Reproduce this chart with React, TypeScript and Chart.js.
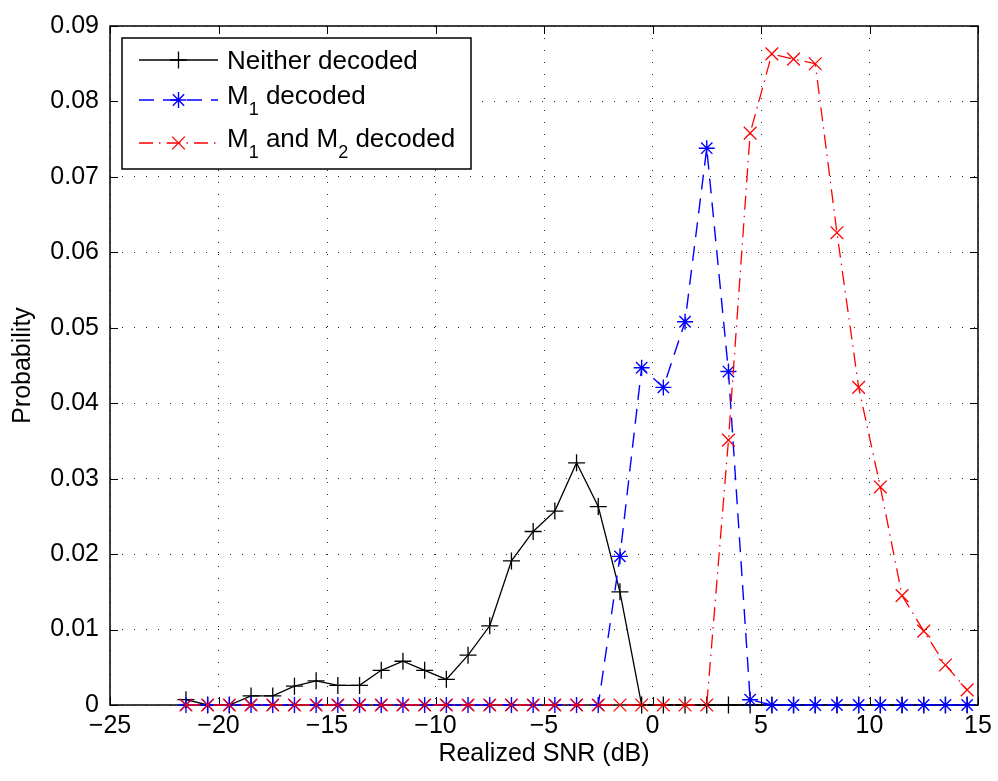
import React, { useEffect, useRef } from 'react';
import { Chart, registerables } from 'chart.js';
import { drawPoint } from 'chart.js/helpers';

Chart.register(...registerables);

// ---- data ----
const snrDb = [
  -21.5, -20.5, -19.5, -18.5, -17.5, -16.5, -15.5, -14.5, -13.5, -12.5,
  -11.5, -10.5, -9.5, -8.5, -7.5, -6.5, -5.5, -4.5, -3.5, -2.5,
  -1.5, -0.5, 0.5, 1.5, 2.5, 3.5, 4.5, 5.5, 6.5, 7.5,
  8.5, 9.5, 10.5, 11.5, 12.5, 13.5, 14.5,
];

const neitherDecoded = [
  0.0007, 0, 0, 0.0012, 0.0012, 0.0025, 0.0032, 0.0026, 0.0026, 0.0046,
  0.0058, 0.0046, 0.0034, 0.0066, 0.0105, 0.0191, 0.0230, 0.0257, 0.0321, 0.0263,
  0.0150, 0, 0, 0, 0, 0, 0, 0, 0, 0,
  0, 0, 0, 0, 0, 0, 0,
];

const m1Decoded = [
  0, 0, 0, 0, 0, 0, 0, 0, 0, 0,
  0, 0, 0, 0, 0, 0, 0, 0, 0, 0,
  0.0197, 0.0447, 0.0421, 0.0508, 0.0738, 0.0442, 0.0007, 0, 0, 0,
  0, 0, 0, 0, 0, 0, 0,
];

const m1m2Decoded = [
  0, 0, 0, 0, 0, 0, 0, 0, 0, 0,
  0, 0, 0, 0, 0, 0, 0, 0, 0, 0,
  0, 0, 0, 0, 0, 0.0351, 0.0758, 0.0863, 0.0856, 0.0850,
  0.0626, 0.0421, 0.0289, 0.0145, 0.0098, 0.0053, 0.0020,
];

const xTickValues = [-25, -20, -15, -10, -5, 0, 5, 10, 15];
const xTickLabels = ['\u221225', '\u221220', '\u221215', '\u221210', '\u22125', '0', '5', '10', '15'];
const yTickValues = [0, 0.01, 0.02, 0.03, 0.04, 0.05, 0.06, 0.07, 0.08, 0.09];
const yTickLabels = ['0', '0.01', '0.02', '0.03', '0.04', '0.05', '0.06', '0.07', '0.08', '0.09'];

const xTitle = 'Realized SNR (dB)';
const yTitle = 'Probability';

// legend text segments (sub = subscript)
const legendLabels = [
  [{ t: 'Neither decoded' }],
  [{ t: 'M' }, { t: '1', sub: true }, { t: ' decoded' }],
  [{ t: 'M' }, { t: '1', sub: true }, { t: ' and M' }, { t: '2', sub: true }, { t: ' decoded' }],
];

const FONT = "'Liberation Sans', Helvetica, Arial, sans-serif";

const toPoints = (ys: number[]) => snrDb.map((x, i) => ({ x, y: ys[i] }));

// axes box with inward ticks on all four sides
const axesBoxPlugin = {
  id: 'axesBox',
  beforeDatasetsDraw(chart: any) {
    const { ctx, chartArea: a, scales } = chart;
    const L = 8;
    ctx.save();
    ctx.setLineDash([]);
    ctx.strokeStyle = '#000';
    ctx.lineWidth = 1;
    ctx.beginPath();
    scales.x.ticks.forEach((t: any) => {
      const px = Math.round(scales.x.getPixelForValue(t.value)) + 0.5;
      ctx.moveTo(px, a.bottom); ctx.lineTo(px, a.bottom - L);
      ctx.moveTo(px, a.top); ctx.lineTo(px, a.top + L);
    });
    scales.y.ticks.forEach((t: any) => {
      const py = Math.round(scales.y.getPixelForValue(t.value)) + 0.5;
      ctx.moveTo(a.left, py); ctx.lineTo(a.left + L, py);
      ctx.moveTo(a.right, py); ctx.lineTo(a.right - L, py);
    });
    ctx.stroke();
    ctx.lineWidth = 1.5;
    ctx.strokeRect(a.left, a.top, a.right - a.left, a.bottom - a.top);
    ctx.restore();
  },
};

// MATLAB-style legend: line sample + marker + text with subscripts
const legendPlugin = {
  id: 'matlabLegend',
  afterDatasetsDraw(chart: any) {
    const { ctx, chartArea: a } = chart;
    const bx = a.left + 12;
    const by = a.top + 12;
    const bw = 349;
    const bh = 131;
    const lineY = [22, 62, 105];
    const textY = [31, 66, 109];
    const fontSize = 26;
    const subSize = 18;
    ctx.save();
    ctx.fillStyle = '#fff';
    ctx.fillRect(bx, by, bw, bh);
    ctx.setLineDash([]);
    ctx.strokeStyle = '#000';
    ctx.lineWidth = 1.5;
    ctx.strokeRect(bx, by, bw, bh);
    chart.data.datasets.forEach((ds: any, i: number) => {
      const y = by + lineY[i];
      const x0 = bx + 17;
      const x1 = bx + 96;
      const xm = (x0 + x1) / 2;
      ctx.save();
      ctx.strokeStyle = ds.borderColor;
      ctx.lineWidth = ds.borderWidth;
      ctx.setLineDash(ds.borderDash || []);
      ctx.beginPath();
      ctx.moveTo(x0, y);
      ctx.lineTo(x1, y);
      ctx.stroke();
      ctx.setLineDash([]);
      ctx.strokeStyle = ds.pointBorderColor;
      ctx.lineWidth = ds.pointBorderWidth;
      drawPoint(ctx, { pointStyle: ds.pointStyle, radius: ds.pointRadius, rotation: 0, borderWidth: ds.pointBorderWidth }, xm, y);
      ctx.restore();
      // text
      let tx = bx + 105;
      const base = by + textY[i];
      ctx.fillStyle = '#000';
      ctx.textBaseline = 'alphabetic';
      ctx.textAlign = 'left';
      legendLabels[i].forEach((seg: any) => {
        ctx.font = `${seg.sub ? subSize : fontSize}px ${FONT}`;
        ctx.fillText(seg.t, tx, seg.sub ? base + 11 : base);
        tx += ctx.measureText(seg.t).width;
      });
    });
    ctx.restore();
  },
};

export default function App() {
  const ref = useRef<HTMLCanvasElement>(null);

  useEffect(() => {
    document.body.style.margin = '0';
    const tickFont = { family: FONT, size: 25 };
    const chart = new Chart(ref.current!, {
      type: 'line',
      data: {
        datasets: [
          {
            label: 'Neither decoded',
            data: toPoints(neitherDecoded),
            borderColor: '#000',
            borderWidth: 1.3,
            borderDash: [],
            pointStyle: 'cross',
            pointRadius: 8.5,
            pointBorderColor: '#000',
            pointBorderWidth: 1.3,
            pointBackgroundColor: 'rgba(0,0,0,0)',
            pointHoverRadius: 8.5,
            tension: 0,
            fill: false,
            clip: false as any,
            order: 3,
          },
          {
            label: 'M1 decoded',
            data: toPoints(m1Decoded),
            borderColor: '#0000ff',
            borderWidth: 1.4,
            borderDash: [15, 9],
            pointStyle: 'star',
            pointRadius: 8,
            pointBorderColor: '#0000ff',
            pointBorderWidth: 1.4,
            pointBackgroundColor: 'rgba(0,0,0,0)',
            pointHoverRadius: 8,
            tension: 0,
            fill: false,
            clip: false as any,
            order: 2,
          },
          {
            label: 'M1 and M2 decoded',
            data: toPoints(m1m2Decoded),
            borderColor: '#ff0000',
            borderWidth: 1.3,
            borderDash: [14, 6, 1.5, 6],
            pointStyle: 'crossRot',
            pointRadius: 9,
            pointBorderColor: '#ff0000',
            pointBorderWidth: 1.3,
            pointBackgroundColor: 'rgba(0,0,0,0)',
            pointHoverRadius: 9,
            tension: 0,
            fill: false,
            clip: false as any,
            order: 1,
          },
        ],
      },
      options: {
        animation: false,
        responsive: true,
        maintainAspectRatio: false,
        events: [],
        layout: { padding: { left: 0, right: 20, top: 21, bottom: 0 } },
        plugins: {
          legend: { display: false },
          tooltip: { enabled: false },
        },
        scales: {
          x: {
            type: 'linear',
            min: -25,
            max: 15,
            afterBuildTicks: (s: any) => { s.ticks = xTickValues.map((v) => ({ value: v })); },
            afterFit: (s: any) => { s.height = 76; },
            ticks: {
              font: tickFont,
              color: '#000',
              padding: 6,
              maxRotation: 0,
              autoSkip: false,
              callback: (v: any) => xTickLabels[xTickValues.indexOf(Number(v))] ?? '',
            },
            grid: { color: 'rgba(0,0,0,0.85)', lineWidth: 1, drawTicks: false },
            border: { display: false, dash: [1, 11] },
            title: { display: true, text: xTitle, font: tickFont, color: '#000', padding: { top: 0, bottom: 12 } },
          },
          y: {
            type: 'linear',
            min: 0,
            max: 0.09,
            afterBuildTicks: (s: any) => { s.ticks = yTickValues.map((v) => ({ value: v })); },
            afterFit: (s: any) => { s.width = 110; },
            ticks: {
              font: tickFont,
              color: '#000',
              padding: 11,
              autoSkip: false,
              callback: (v: any, i: number) => yTickLabels[i] ?? '',
            },
            grid: { color: 'rgba(0,0,0,0.85)', lineWidth: 1, drawTicks: false },
            border: { display: false, dash: [1, 11] },
            title: { display: true, text: yTitle, font: tickFont, color: '#000', padding: { top: 8, bottom: 0 } },
          },
        },
      } as any,
      plugins: [axesBoxPlugin, legendPlugin],
    });
    return () => chart.destroy();
  }, []);

  return (
    <div style={{ width: 998, height: 781, position: 'relative' }}>
      <canvas ref={ref} />
    </div>
  );
}
